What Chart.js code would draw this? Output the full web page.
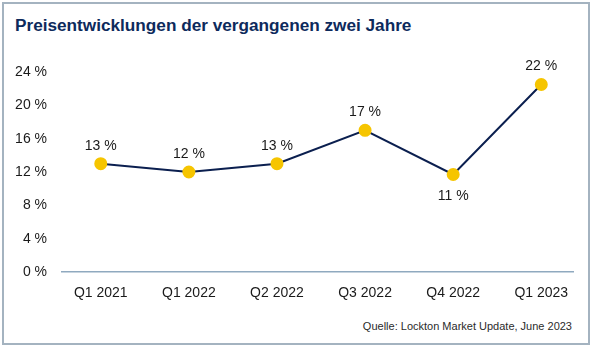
<!DOCTYPE html>
<html>
<head>
<meta charset="utf-8">
<script src="https://cdn.jsdelivr.net/npm/chart.js@4/dist/chart.umd.min.js"></script>
<style>
  html, body { margin: 0; padding: 0; background: #fff; }
  body { width: 600px; height: 354px; position: relative; overflow: hidden;
         font-family: "Liberation Sans", Arial, sans-serif; }
  .frame { position: absolute; left: 2px; top: 2px; width: 584px; height: 339px;
           border: 2px solid #a4b3c0; }
  .title { position: absolute; left: 15px; top: 15px; font-size: 17.2px; font-weight: bold;
           color: #0d2a5c; white-space: nowrap; }
  .source { position: absolute; right: 28px; top: 320px; font-size: 11px; color: #2b2b2b; }
  #chart { position: absolute; left: 0; top: 0; }
</style>
</head>
<body>
<div class="frame"></div>
<div class="title">Preisentwicklungen der vergangenen zwei Jahre</div>
<div class="source">Quelle: Lockton Market Update, June 2023</div>
<canvas id="chart" width="600" height="354"></canvas>
<script>
var quarters = ['Q1 2021', 'Q1 2022', 'Q2 2022', 'Q3 2022', 'Q4 2022', 'Q1 2023'];
var priceChange = [13, 12, 13, 17, 11.7, 22.5];
var yTicks = [0, 4, 8, 12, 16, 20, 24];

// labels sit above the point, except where the line dips
var labelBelow = [false, false, false, false, true, false];

var pointLabels = {
  id: 'pointLabels',
  afterDatasetsDraw: function (chart) {
    var ctx = chart.ctx;
    var meta = chart.getDatasetMeta(0);
    ctx.save();
    ctx.font = '14px "Liberation Sans", Arial, sans-serif';
    ctx.fillStyle = '#1a1a1a';
    ctx.textAlign = 'center';
    ctx.textBaseline = 'middle';
    meta.data.forEach(function (pt, i) {
      var text = Math.trunc(priceChange[i]) + ' %';
      var dy = labelBelow[i] ? 22 : -18;
      ctx.fillText(text, pt.x, pt.y + dy);
    });
    ctx.restore();
  }
};

new Chart(document.getElementById('chart'), {
  type: 'line',
  data: {
    datasets: [{
      data: priceChange.map(function (v, i) { return { x: i, y: v }; }),
      borderColor: '#0b1f4f',
      borderWidth: 2,
      pointBackgroundColor: '#f6c500',
      pointBorderColor: '#f6c500',
      pointRadius: 5.5,
      tension: 0
    }]
  },
  options: {
    responsive: false,
    animation: false,
    layout: { padding: { top: 72, right: 27, bottom: 42, left: 0 } },
    plugins: { legend: { display: false }, tooltip: { enabled: false } },
    scales: {
      x: {
        type: 'linear',
        min: -0.44,
        max: 5.36,
        afterFit: function (s) { s.height = 40; },
        afterBuildTicks: function (s) {
          s.ticks = quarters.map(function (q, i) { return { value: i }; });
        },
        grid: { display: false, drawTicks: false },
        border: { display: true, color: '#8fa9bf', width: 1.5 },
        ticks: {
          padding: 13,
          color: '#1a1a1a',
          font: { size: 14, family: '"Liberation Sans", Arial, sans-serif' },
          callback: function (v) { return quarters[v]; }
        }
      },
      y: {
        min: 0,
        max: 24,
        afterFit: function (s) { s.width = 62; },
        afterBuildTicks: function (s) {
          s.ticks = yTicks.map(function (t) { return { value: t }; });
        },
        grid: { display: false, drawTicks: false },
        border: { display: false },
        ticks: {
          padding: 15,
          color: '#1a1a1a',
          font: { size: 14, family: '"Liberation Sans", Arial, sans-serif' },
          callback: function (v) { return v + ' %'; }
        }
      }
    }
  },
  plugins: [pointLabels]
});
</script>
</body>
</html>
